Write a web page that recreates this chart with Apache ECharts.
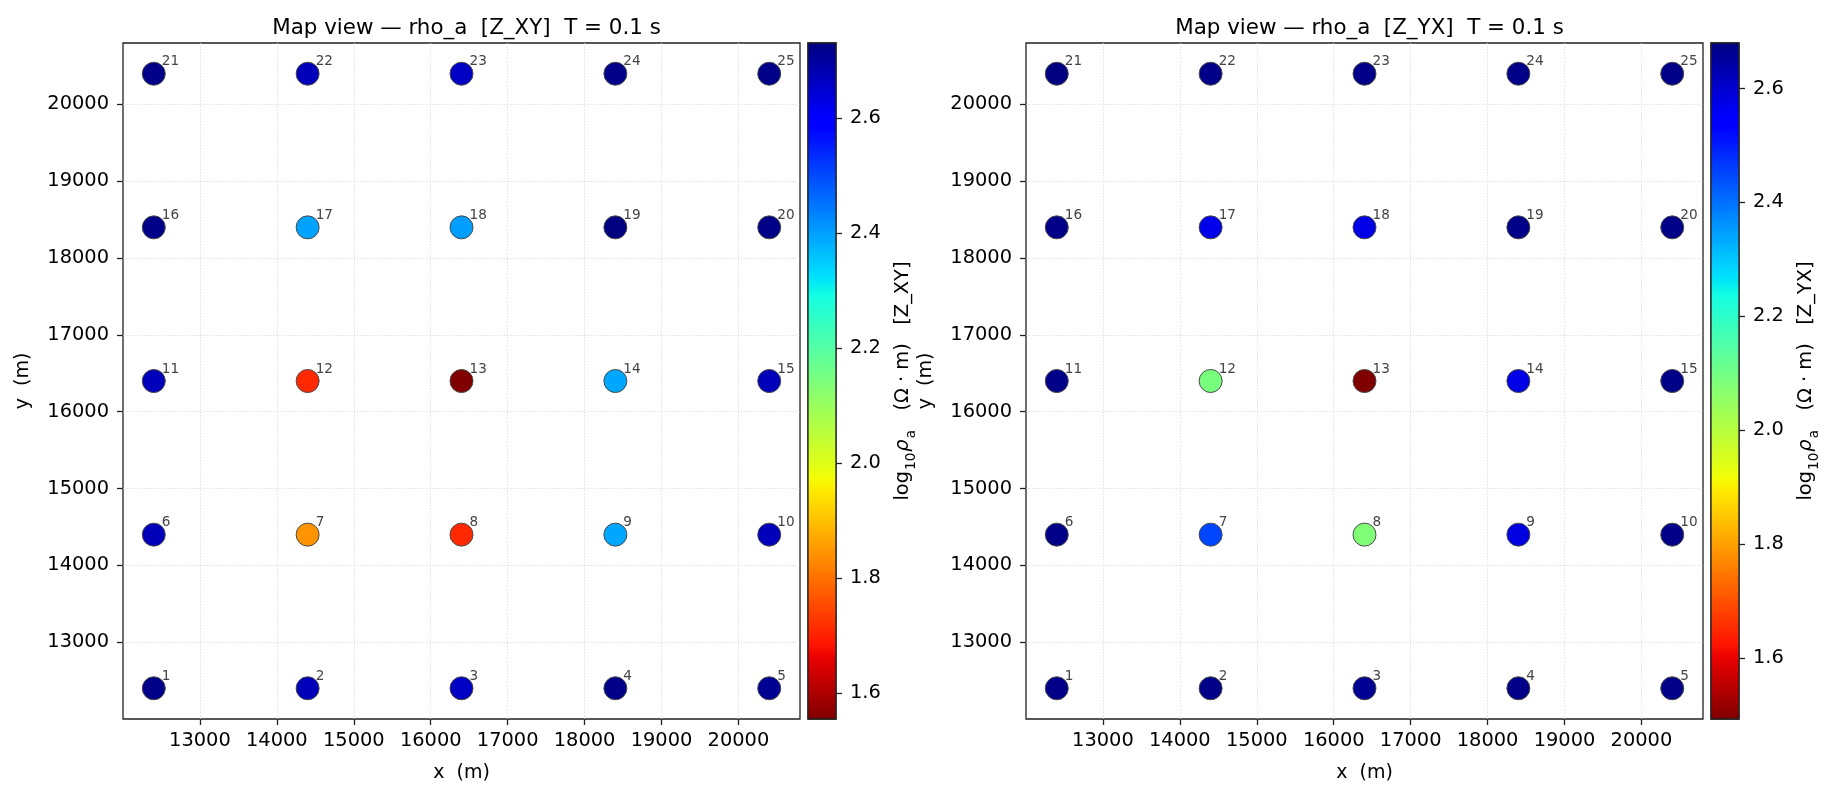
<!DOCTYPE html>
<html><head><meta charset="utf-8">
<script src="https://cdn.jsdelivr.net/npm/echarts@6/dist/echarts.min.js"></script>
<style>html,body{margin:0;padding:0;background:#fff}#c{width:1835px;height:797px}</style>
</head><body><div id="c"></div>
<script>
// ---- data ----
const stationIds = [1,2,3,4,5,6,7,8,9,10,11,12,13,14,15,16,17,18,19,20,21,22,23,24,25];
const stationX = [12400,14400,16400,18400,20400, 12400,14400,16400,18400,20400, 12400,14400,16400,18400,20400, 12400,14400,16400,18400,20400, 12400,14400,16400,18400,20400];
const stationY = [12400,12400,12400,12400,12400, 14400,14400,14400,14400,14400, 16400,16400,16400,16400,16400, 18400,18400,18400,18400,18400, 20400,20400,20400,20400,20400];
const log10RhoXY = [2.72,2.67,2.66,2.72,2.71, 2.67,1.845,1.71,2.39,2.67, 2.67,1.71,1.555,2.39,2.67, 2.72,2.395,2.40,2.73,2.72, 2.72,2.67,2.66,2.72,2.72];
const log10RhoYX = [2.67,2.67,2.66,2.67,2.67, 2.67,2.45,2.08,2.58,2.67, 2.67,2.09,1.493,2.575,2.67, 2.67,2.57,2.575,2.67,2.67, 2.68,2.67,2.67,2.67,2.67];
const xTicks = [13000,14000,15000,16000,17000,18000,19000,20000];
const yTicks = [13000,14000,15000,16000,17000,18000,19000,20000];
const cbTicksXY = [1.6,1.8,2.0,2.2,2.4,2.6];
const cbTicksYX = [1.6,1.8,2.0,2.2,2.4,2.6];
const cbRangeXY = [1.555, 2.73];
const cbRangeYX = [1.493, 2.68];
const axisRangeX = [12000, 20800];
const axisRangeY = [12000, 20800];
const panelTitles = ['Map view \u2014 rho_a  [Z_XY]  T = 0.1 s', 'Map view \u2014 rho_a  [Z_YX]  T = 0.1 s'];
const cbComponents = ['Z_XY', 'Z_YX'];

// ---- jet colormap (matplotlib segment data) ----
const JET = {
  r: [[0,0],[0.35,0],[0.66,1],[0.89,1],[1,0.5]],
  g: [[0,0],[0.125,0],[0.375,1],[0.64,1],[0.91,0],[1,0]],
  b: [[0,0.5],[0.11,1],[0.34,1],[0.65,0],[1,0]]
};
function seg(s, t) {
  for (let i = 1; i < s.length; i++) {
    if (t <= s[i][0]) {
      const a = s[i-1], b = s[i];
      return a[1] + (b[1]-a[1]) * (t-a[0]) / (b[0]-a[0]);
    }
  }
  return s[s.length-1][1];
}
function jet(t) {
  const c = v => Math.round(Math.max(0, Math.min(1, v)) * 255);
  return 'rgb(' + c(seg(JET.r,t)) + ',' + c(seg(JET.g,t)) + ',' + c(seg(JET.b,t)) + ')';
}
const N = 200;
const jetRColors = []; // low value -> dark red, high value -> navy (jet_r)
for (let i = 0; i <= N; i++) jetRColors.push(jet(1 - i/N));
const cbStops = []; // top (high) -> bottom (low)
for (let i = 0; i <= N; i++) cbStops.push({offset: i/N, color: jet(i/N)});

const FONT = 'DejaVu Sans';
const TICK = 19.4;
const LH = 30;

function cbName(comp) {
  return '{n|log}{s|10}{i|\u03c1}{s|a}{n|   (\u03a9 \u00b7 m)   [' + comp + ']}';
}
const cbRich = {
  n: {fontFamily: FONT, fontSize: 19.4, color: '#000', lineHeight: LH, verticalAlign: 'middle'},
  i: {fontFamily: FONT, fontSize: 19.4, fontStyle: 'italic', color: '#000', lineHeight: LH, verticalAlign: 'middle'},
  s: {fontFamily: FONT, fontSize: 13.6, color: '#000', lineHeight: LH, verticalAlign: 'bottom', padding: [0, 1, 0, 1]}
};

function mainX(gi) {
  return {
    type: 'value', gridIndex: gi, min: axisRangeX[0], max: axisRangeX[1],
    name: 'x  (m)', nameLocation: 'middle', nameGap: 45,
    nameTextStyle: {fontFamily: FONT, fontSize: 19, color: '#000'},
    axisLine: {show: false, onZero: false},
    axisTick: {show: true, length: 6, customValues: xTicks, lineStyle: {color: '#222', width: 1.3}},
    axisLabel: {customValues: xTicks, margin: 12, fontFamily: FONT, fontSize: TICK, color: '#000', formatter: v => String(v)},
    splitLine: {show: true, lineStyle: {color: '#dadada', width: 0.8, type: [1.5, 1.5]}}
  };
}
function mainY(gi) {
  return {
    type: 'value', gridIndex: gi, min: axisRangeY[0], max: axisRangeY[1],
    name: 'y  (m)', nameLocation: 'middle', nameGap: 90, nameRotate: 90,
    nameTextStyle: {fontFamily: FONT, fontSize: 19, color: '#000'},
    axisLine: {show: false, onZero: false},
    axisTick: {show: true, length: 6, customValues: yTicks, lineStyle: {color: '#222', width: 1.3}},
    axisLabel: {customValues: yTicks, margin: 14, fontFamily: FONT, fontSize: TICK, color: '#000', formatter: v => String(v)},
    splitLine: {show: true, lineStyle: {color: '#dadada', width: 0.8, type: [1.5, 1.5]}}
  };
}
function cbX(gi) {
  return {type: 'value', gridIndex: gi, min: 0, max: 1, show: false};
}
function cbY(gi, range, ticks, comp) {
  return {
    type: 'value', gridIndex: gi, min: range[0], max: range[1], position: 'right',
    name: cbName(comp), nameLocation: 'middle', nameGap: 52, nameRotate: 90,
    nameTextStyle: {fontFamily: FONT, fontSize: 19.4, color: '#000', rich: cbRich},
    axisLine: {show: false, onZero: false},
    axisTick: {show: true, length: 6, customValues: ticks, lineStyle: {color: '#222', width: 1.3}},
    axisLabel: {customValues: ticks, margin: 14, fontFamily: FONT, fontSize: TICK, color: '#000', formatter: v => v.toFixed(1)},
    splitLine: {show: false}
  };
}
function scatterSeries(gi, vals) {
  return {
    type: 'scatter', xAxisIndex: gi, yAxisIndex: gi, symbolSize: 23,
    data: stationIds.map((id, i) => [stationX[i], stationY[i], vals[i], id]),
    itemStyle: {borderColor: '#4a4a4a', borderWidth: 1, opacity: 1},
    label: {show: true, position: [20, 7], align: 'left', verticalAlign: 'bottom',
      formatter: p => String(p.value[3]), fontFamily: FONT, fontSize: 13.6, color: '#444'},
    emphasis: {disabled: true}
  };
}
function cbSeries(ai, range) {
  return {
    type: 'custom', xAxisIndex: ai, yAxisIndex: ai, silent: true,
    data: [[0, range[0], 1, range[1]]],
    renderItem: (params, api) => {
      const a = api.coord([api.value(0), api.value(3)]);
      const b = api.coord([api.value(2), api.value(1)]);
      return {
        type: 'rect',
        shape: {x: a[0], y: a[1], width: b[0]-a[0], height: b[1]-a[1]},
        style: {fill: {type: 'linear', x: 0, y: 0, x2: 0, y2: 1, colorStops: cbStops}, stroke: '#222', lineWidth: 1.3}
      };
    }
  };
}

const gridStyle = {show: true, borderColor: '#222', borderWidth: 1.3, backgroundColor: 'transparent', containLabel: false};
const option = {
  backgroundColor: '#fff',
  animation: false,
  textStyle: {fontFamily: FONT},
  title: [
    {text: panelTitles[0], left: 461.5, top: 13, textAlign: 'center', textStyle: {fontFamily: FONT, fontSize: 21.4, fontWeight: 'normal', color: '#000'}},
    {text: panelTitles[1], left: 1364.5, top: 13, textAlign: 'center', textStyle: {fontFamily: FONT, fontSize: 21.4, fontWeight: 'normal', color: '#000'}}
  ],
  grid: [
    Object.assign({left: 123, top: 43, width: 677, height: 676}, gridStyle),
    Object.assign({left: 808, top: 43, width: 28, height: 676}, gridStyle),
    Object.assign({left: 1026, top: 43, width: 677, height: 676}, gridStyle),
    Object.assign({left: 1711, top: 43, width: 28, height: 676}, gridStyle)
  ],
  xAxis: [mainX(0), cbX(1), mainX(2), cbX(3)],
  yAxis: [mainY(0), cbY(1, cbRangeXY, cbTicksXY, cbComponents[0]), mainY(2), cbY(3, cbRangeYX, cbTicksYX, cbComponents[1])],
  visualMap: [
    {type: 'continuous', show: false, seriesIndex: 0, dimension: 2, min: cbRangeXY[0], max: cbRangeXY[1], inRange: {color: jetRColors}},
    {type: 'continuous', show: false, seriesIndex: 2, dimension: 2, min: cbRangeYX[0], max: cbRangeYX[1], inRange: {color: jetRColors}}
  ],
  series: [
    scatterSeries(0, log10RhoXY),
    cbSeries(1, cbRangeXY),
    scatterSeries(2, log10RhoYX),
    cbSeries(3, cbRangeYX)
  ]
};
const chart = echarts.init(document.getElementById('c'), null, {renderer: 'canvas'});
chart.setOption(option);
</script>
</body></html>
